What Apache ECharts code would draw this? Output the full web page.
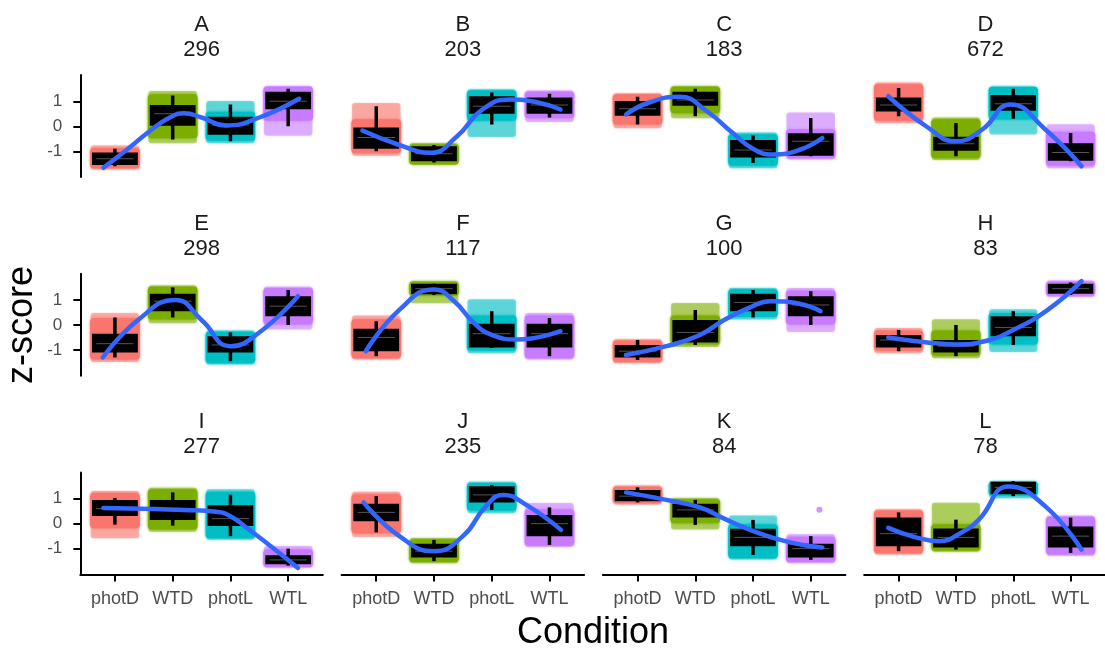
<!DOCTYPE html>
<html><head><meta charset="utf-8">
<script src="https://cdn.jsdelivr.net/npm/echarts@6/dist/echarts.min.js"></script>
<style>html,body{margin:0;padding:0;background:#fff}#c{width:1105px;height:649px}</style>
</head><body><div id="c"></div>
<script>
// ---------- DATA ----------
const conditions = ['photD', 'WTD', 'photL', 'WTL'];
const condColors = ['#F8766D', '#7CAE00', '#00BFC4', '#C77CFF'];
const panelNames = ['A','B','C','D','E','F','G','H','I','J','K','L'];
const panelCounts = [296, 203, 183, 672, 298, 117, 100, 83, 277, 235, 84, 78];
const yTicks = [-1, 0, 1];
const xLabel = 'Condition';
const yLabel = 'z-score';

// box stats per condition: [lower whisker, Q1, median, Q3, upper whisker]
const boxA = [[-1.6,-1.5,-1.3,-1.1,-0.9],[-0.53,0.07,0.5,0.8,1.23],[-0.6,-0.29,0.05,0.33,0.87],[0,0.73,1.0,1.33,1.5]];
const boxB = [[-1.0,-0.85,-0.45,-0.1,0.8],[-1.45,-1.35,-1.1,-0.85,-0.75],[0.07,0.55,0.8,1.15,1.35],[0.35,0.55,0.85,1.1,1.3]];
const boxC = [[0.07,0.47,0.7,0.96,1.18],[0.4,0.87,1.05,1.33,1.5],[-1.47,-1.2,-0.95,-0.6,-0.37],[-1.2,-1.13,-0.6,-0.33,0.33]];
const boxD = [[0.4,0.64,0.85,1.1,1.53],[-1.2,-0.93,-0.7,-0.47,0.13],[0.3,0.67,0.9,1.2,1.5],[-1.4,-1.33,-1.05,-0.73,-0.27]];
const boxE = [[-1.3,-1.05,-0.75,-0.4,0.3],[0.3,0.6,0.95,1.2,1.5],[-1.45,-1.05,-0.8,-0.5,-0.3],[0,0.4,0.75,1.1,1.4]];
const boxF = [[-1.25,-1.0,-0.5,-0.2,0.15],[1.2,1.28,1.45,1.6,1.65],[-0.92,-0.85,-0.35,0.0,0.55],[-1.25,-0.85,-0.35,0.0,0.28]];
const boxG = [[-1.4,-1.25,-1.05,-0.85,-0.6],[-0.8,-0.65,-0.3,0.15,0.6],[0.3,0.6,0.9,1.2,1.4],[0,0.4,0.8,1.1,1.35]];
const boxH = [[-1.05,-0.85,-0.6,-0.45,-0.2],[-1.25,-1.05,-0.85,-0.65,0],[-0.8,-0.4,-0.1,0.3,0.55],[1.2,1.3,1.45,1.6,1.7]];
const boxI = [[-0.04,0.36,0.6,0.9,1.03],[-0.08,0.2,0.55,0.9,1.25],[-0.5,-0.04,0.2,0.69,1.16],[-1.68,-1.57,-1.45,-1.31,-1.0]];
const boxJ = [[-0.35,0.15,0.45,0.75,1.1],[-1.5,-1.3,-1.1,-0.85,-0.65],[0.55,0.9,1.15,1.45,1.55],[-0.85,-0.45,0.0,0.3,0.65]];
const boxK = [[0.85,0.95,1.1,1.3,1.45],[-0.05,0.3,0.55,0.75,0.95],[-1.25,-0.85,-0.55,-0.25,0.15],[-1.45,-1.3,-1.0,-0.85,-0.5]];
const boxL = [[-1.1,-0.85,-0.4,0.2,0.45],[-1.04,-0.9,-0.55,-0.24,0.16],[1.1,1.23,1.45,1.63,1.7],[-1.17,-0.9,-0.5,-0.16,0.24]];

// jittered point cloud per condition: [lowest point, dense part low, dense part high, highest point]
const cloudA = [[-1.65,-1.6,-0.95,-0.85],[-0.6,-0.4,1.2,1.33],[-0.6,-0.5,0.5,0.93],[-0.3,0.3,1.5,1.53]];
const cloudB = [[-1.1,-1.0,0.2,0.85],[-1.45,-1.45,-0.8,-0.75],[-0.35,0.3,1.35,1.4],[0.25,0.4,1.3,1.35]];
const cloudC = [[0.0,0.15,1.2,1.23],[0.4,0.6,1.5,1.53],[-1.6,-1.5,-0.4,-0.33],[-1.25,-1.2,-0.2,0.47]];
const cloudD = [[0.2,0.3,1.6,1.67],[-1.27,-1.2,0.2,0.27],[-0.25,0.35,1.5,1.5],[-1.6,-1.5,-0.3,0.0]];
const cloudE = [[-1.4,-1.3,0.2,0.4],[0.15,0.3,1.45,1.5],[-1.5,-1.45,-0.35,-0.3],[-0.1,0.1,1.4,1.45]];
const cloudF = [[-1.3,-1.25,0.15,0.3],[0.95,1.25,1.65,1.68],[-1.05,-0.95,0.3,0.95],[-1.3,-1.25,0.3,0.4]];
const cloudG = [[-1.45,-1.4,-0.7,-0.65],[-0.8,-0.7,0.3,0.8],[0.3,0.4,1.35,1.4],[-0.2,0.1,1.3,1.4]];
const cloudH = [[-1.05,-0.95,-0.3,-0.2],[-1.25,-1.15,-0.3,0.15],[-1.0,-0.7,0.4,0.55],[1.2,1.25,1.65,1.7]];
const cloudI = [[-0.5,-0.1,1.15,1.23],[-0.24,-0.15,1.3,1.36],[-0.56,-0.5,1.2,1.3],[-1.68,-1.65,-1.1,-0.97]];
const cloudJ = [[-0.45,-0.3,1.1,1.2],[-1.5,-1.45,-0.7,-0.65],[0.5,0.6,1.55,1.6],[-0.85,-0.8,0.5,0.75]];
const cloudK = [[0.85,0.9,1.4,1.45],[-0.15,0.1,0.9,0.95],[-1.35,-1.3,-0.1,0.25],[-1.5,-1.45,-0.6,-0.5]];
const cloudL = [[-1.15,-1.1,0.45,0.5],[-1.04,-1.0,-0.1,0.76],[1.1,1.2,1.6,1.63],[-1.2,-1.15,0.2,0.24]];

// isolated points outside the clouds: [x position, z-score, condition index]
const strayK = [[4.15, 0.56, 3]];

// smoothed trend: [x position (1..4 = conditions), z-score]
const trendA = [[0.8,-1.66],[1.2,-0.95],[1.6,-0.2],[1.95,0.35],[2.2,0.52],[2.5,0.35],[2.93,0.03],[3.5,0.35],[4.19,1.1]];
const trendB = [[0.76,-0.17],[1.4,-0.75],[1.94,-1.06],[2.4,-0.4],[2.84,0.67],[3.32,1.07],[3.8,0.95],[4.19,0.67]];
const trendC = [[0.8,0.47],[1.2,0.95],[1.73,1.18],[2.2,0.6],[2.65,-0.27],[3.0,-0.9],[3.34,-1.13],[3.8,-0.95],[4.2,-0.47]];
const trendD = [[0.82,1.2],[1.48,0.0],[2.0,-0.6],[2.46,-0.13],[2.95,0.87],[3.56,-0.13],[4.19,-1.6]];
const trendE = [[0.79,-1.3],[1.4,0.2],[2.05,1.0],[2.5,0.2],[3.0,-0.85],[3.5,-0.3],[4.17,1.15]];
const trendF = [[0.82,-1.05],[1.4,0.6],[2.0,1.42],[2.35,0.95],[2.69,0.08],[3.0,-0.4],[3.44,-0.58],[4.19,-0.25]];
const trendG = [[0.8,-1.2],[1.5,-0.85],[2.08,-0.4],[2.5,0.2],[2.95,0.7],[3.3,0.95],[3.8,0.85],[4.17,0.55]];
const trendH = [[0.82,-0.5],[1.5,-0.7],[2.0,-0.78],[2.5,-0.65],[3.0,-0.2],[3.6,0.6],[4.19,1.75]];
const trendI = [[0.8,0.63],[1.5,0.6],[2.2,0.55],[2.75,0.48],[3.0,0.3],[3.3,-0.2],[3.7,-0.9],[4.17,-1.77]];
const trendJ = [[0.78,0.85],[1.4,-0.5],[2.0,-1.1],[2.5,-0.5],[2.9,0.7],[3.2,1.15],[3.6,0.75],[4.2,-0.25]];
const trendK = [[0.8,1.25],[1.5,0.95],[2.08,0.65],[2.5,0.2],[2.95,-0.25],[3.64,-0.75],[4.2,-0.95]];
const trendL = [[0.82,-0.17],[1.3,-0.55],[1.71,-0.7],[2.1,-0.35],[2.4,0.16],[2.92,1.49],[3.56,0.69],[4.19,-1.04]];

// ---------- CHART ----------
const boxes = [boxA,boxB,boxC,boxD,boxE,boxF,boxG,boxH,boxI,boxJ,boxK,boxL];
const clouds = [cloudA,cloudB,cloudC,cloudD,cloudE,cloudF,cloudG,cloudH,cloudI,cloudJ,cloudK,cloudL];
const trends = [trendA,trendB,trendC,trendD,trendE,trendF,trendG,trendH,trendI,trendJ,trendK,trendL];
const strays = {10: strayK};

const FONT = "'Liberation Sans', Arial, sans-serif";
const GL = 80.3, GSTEP = 261.3, GW = 242.5, GT = 75, RSTEP = 198.7, GH = 102;

const grids = [], xAxes = [], yAxes = [], series = [], graphics = [];

function renderBox(params, api) {
  const x = api.value(0);
  const lo = api.value(1), q1 = api.value(2), med = api.value(3), q3 = api.value(4), hi = api.value(5);
  const cMin = api.value(6), dLo = api.value(7), dHi = api.value(8), cMax = api.value(9), ci = api.value(10);
  const col = condColors[ci];
  const s1 = api.coord([x - 0.42, cMax]), s2 = api.coord([x + 0.42, cMin]);
  const d1 = api.coord([x - 0.43, dHi]), d2 = api.coord([x + 0.43, dLo]);
  const b1 = api.coord([x - 0.375, q3]), b2 = api.coord([x + 0.375, q1]);
  const pHi = api.coord([x, hi]), pLo = api.coord([x, lo]);
  const m1 = api.coord([x - 0.375, med]), m2 = api.coord([x + 0.375, med]);
  return {
    type: 'group',
    children: [
      { type: 'rect', shape: { x: s1[0], y: s1[1] - 2, width: s2[0] - s1[0], height: s2[1] - s1[1] + 4, r: 3 },
        style: { fill: col, opacity: 0.4, shadowBlur: 2, shadowColor: col } },
      { type: 'rect', shape: { x: d1[0], y: d1[1] - 2, width: d2[0] - d1[0], height: d2[1] - d1[1] + 4, r: 4 },
        style: { fill: col, shadowBlur: 3, shadowColor: col } },
      { type: 'line', shape: { x1: pHi[0], y1: pHi[1], x2: pLo[0], y2: pLo[1] },
        style: { stroke: '#000', lineWidth: 3.5 } },
      { type: 'rect', shape: { x: b1[0], y: b1[1], width: b2[0] - b1[0], height: b2[1] - b1[1] },
        style: { fill: '#000', stroke: '#000', lineWidth: 2.5 } },
      { type: 'line', shape: { x1: m1[0] + 3, y1: m1[1], x2: m2[0] - 3, y2: m2[1] },
        style: { stroke: '#555', lineWidth: 1 } }
    ]
  };
}

for (let i = 0; i < 12; i++) {
  const row = Math.floor(i / 4), col = i % 4;
  const left = GL + col * GSTEP, top = GT + row * RSTEP;
  grids.push({ left: left, top: top, width: GW, height: GH, containLabel: false });
  const bottom = row === 2, leftCol = col === 0;
  xAxes.push({
    type: 'value', gridIndex: i, min: 0.4, max: 4.6,
    axisLine: { show: bottom, onZero: false, lineStyle: { color: '#000', width: 2 } },
    axisTick: { show: bottom, customValues: [1, 2, 3, 4], length: 7, lineStyle: { color: '#000', width: 2 } },
    axisLabel: { show: bottom, customValues: [1, 2, 3, 4], formatter: v => conditions[Math.round(v) - 1],
      color: '#4D4D4D', fontSize: 18, fontFamily: FONT, margin: 16 },
    splitLine: { show: false }
  });
  yAxes.push({
    type: 'value', gridIndex: i, min: -2.03, max: 2.05,
    axisLine: { show: leftCol, onZero: false, lineStyle: { color: '#000', width: 2 } },
    axisTick: { show: leftCol, customValues: yTicks, length: 7, lineStyle: { color: '#000', width: 2 } },
    axisLabel: { show: leftCol, customValues: yTicks, color: '#4D4D4D', fontSize: 17, fontFamily: FONT, margin: 18 },
    splitLine: { show: false }
  });
  const boxData = boxes[i].map((b, k) => [k + 1, b[0], b[1], b[2], b[3], b[4],
    clouds[i][k][0], clouds[i][k][1], clouds[i][k][2], clouds[i][k][3], k]);
  series.push({
    type: 'custom', xAxisIndex: i, yAxisIndex: i, renderItem: renderBox,
    encode: { x: 0, y: [1, 5] }, data: boxData, z: 2, silent: true
  });
  if (strays[i]) {
    series.push({
      type: 'scatter', xAxisIndex: i, yAxisIndex: i, symbolSize: 6, z: 3,
      data: strays[i].map(p => ({ value: [p[0], p[1]], itemStyle: { color: condColors[p[2]] } }))
    });
  }
  series.push({
    type: 'line', xAxisIndex: i, yAxisIndex: i, data: trends[i], smooth: 0.5,
    showSymbol: false, symbol: 'none', z: 5, silent: true,
    lineStyle: { color: '#3366FF', width: 4.5, cap: 'round' }
  });
  const cx = left + GW / 2;
  graphics.push({ type: 'text', x: cx, y: top - 50, style: { text: panelNames[i], align: 'center', verticalAlign: 'middle',
    fontSize: 22, fontFamily: FONT, fill: '#1A1A1A' } });
  graphics.push({ type: 'text', x: cx, y: top - 25, style: { text: String(panelCounts[i]), align: 'center', verticalAlign: 'middle',
    fontSize: 22, fontFamily: FONT, fill: '#1A1A1A' } });
}

graphics.push({ type: 'text', x: 22, y: 325, rotation: Math.PI / 2,
  style: { text: yLabel, align: 'center', verticalAlign: 'middle', fontSize: 36, fontFamily: FONT, fill: '#000' } });
graphics.push({ type: 'text', x: 593, y: 633,
  style: { text: xLabel, align: 'center', verticalAlign: 'middle', fontSize: 36, fontFamily: FONT, fill: '#000' } });

const chart = echarts.init(document.getElementById('c'), null, { renderer: 'canvas' });
chart.setOption({
  animation: false,
  backgroundColor: '#fff',
  grid: grids, xAxis: xAxes, yAxis: yAxes, series: series, graphic: graphics
});
</script>
</body></html>
